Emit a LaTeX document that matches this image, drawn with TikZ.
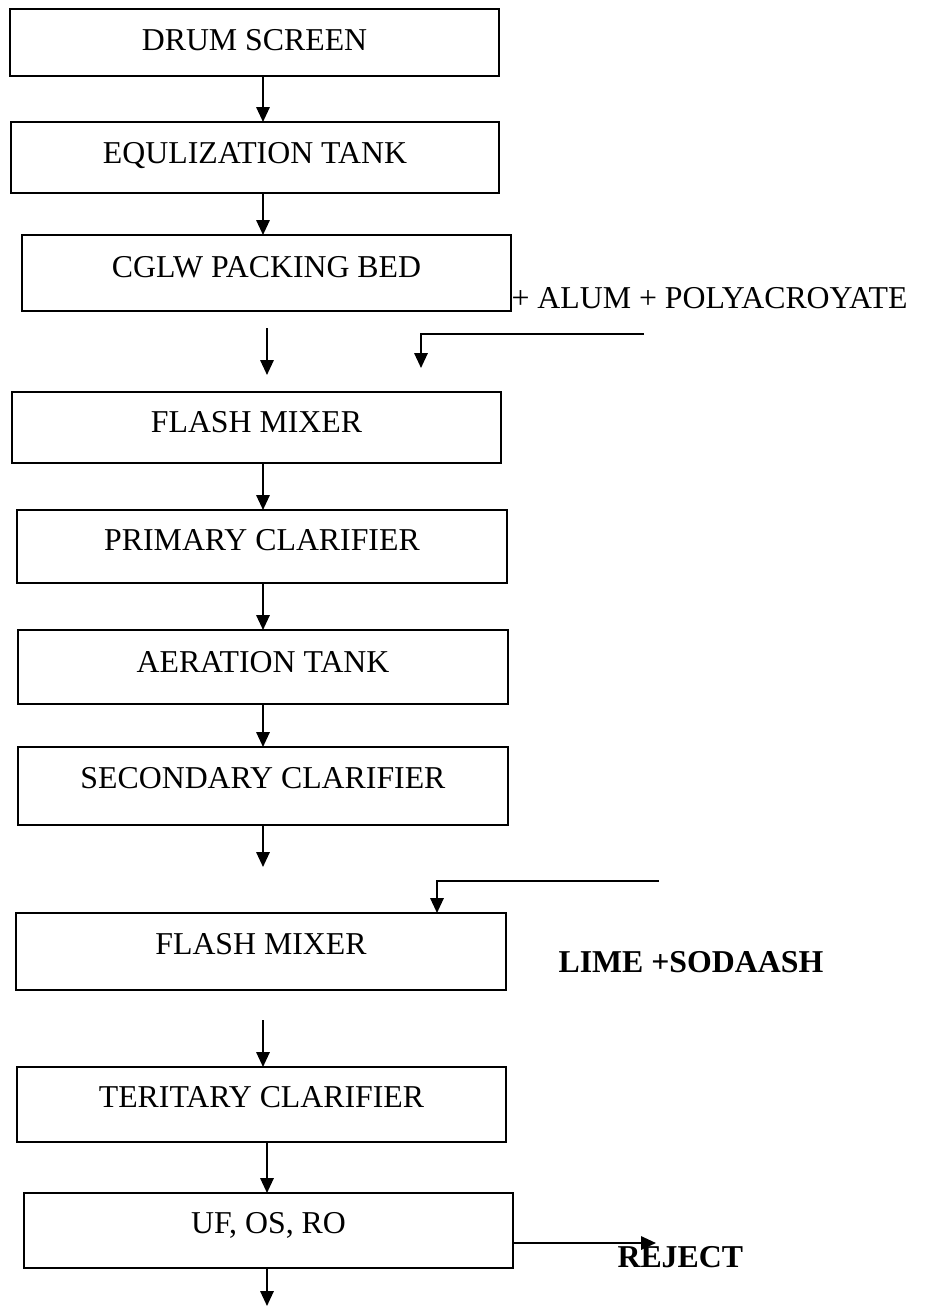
\documentclass[tikz,border=0pt]{standalone}
\usepackage{fontspec}
\setmainfont{Liberation Serif}
\usetikzlibrary{arrows.meta}
\newcommand\procbox[7]{%
  \node[procrect, minimum width={(#4-#2)*0.375pt}, minimum height={(#5-#3)*0.375pt}] (#1) at ({(#2+#4)/2},{(#3+#5)/2}) {};
  \node[proclabel] (#1-t) at ({(#2+#4)/2},#6) {#7};}
\tikzset{
  procrect/.style={draw, line width=0.75pt, inner sep=0pt, outer sep=0pt},
  proclabel/.style={anchor=base, inner sep=0pt},
  sidelabel/.style={anchor=base west, inner sep=0pt},
  boldlabel/.style={sidelabel, font=\fontsize{11.93}{14}\selectfont\bfseries},
  arr/.style={line width=0.75pt, -{Triangle[length=5.6pt,width=5pt]}}
}
\begin{document}
\begin{tikzpicture}[x=0.375pt, y=-0.375pt, font=\fontsize{11.93}{14}\selectfont]
\useasboundingbox (0,0) rectangle (926,1306);
\procbox{ds}{10}{9}{499}{76}{50}{DRUM SCREEN}
\procbox{eq}{11}{122}{499}{193}{163}{EQULIZATION TANK}
\procbox{cg}{22}{235}{511}{311}{277}{CGLW PACKING BED}
\procbox{fma}{12}{392}{501}{463}{432}{FLASH MIXER}
\procbox{pc}{17}{510}{507}{583}{550}{PRIMARY CLARIFIER}
\procbox{at}{18}{630}{508}{704}{672}{AERATION TANK}
\procbox{sc}{18}{747}{508}{825}{788}{SECONDARY CLARIFIER}
\procbox{fmb}{16}{913}{506}{990}{954}{FLASH MIXER}
\procbox{tc}{17}{1067}{506}{1142}{1107}{TERITARY CLARIFIER}
\procbox{uf}{24}{1193}{513}{1268}{1233}{UF, OS, RO}

\node[sidelabel] (alum) at (511,308) {+ ALUM + POLYACROYATE};
\node[boldlabel] (lime) at (558,972) {LIME +SODAASH};
\node[boldlabel] (rej) at (617,1267) {REJECT};

\coordinate (x263) at (263,0);
\coordinate (x267) at (267,0);
\coordinate (x437) at (437,0);
\draw[arr] (ds.south -| x263) -- (eq.north -| x263);
\draw[arr] (eq.south -| x263) -- (cg.north -| x263);
\coordinate (a3s) at (267,328);
\coordinate (a3e) at (267,375);
\draw[arr] (a3s) -- (a3e);
\coordinate (alums) at (644,334);
\coordinate (alume) at (421,368);
\draw[arr] (alums) -| (alume);
\draw[arr] (fma.south -| x263) -- (pc.north -| x263);
\draw[arr] (pc.south -| x263) -- (at.north -| x263);
\draw[arr] (at.south -| x263) -- (sc.north -| x263);
\coordinate (a8e) at (263,867);
\draw[arr] (sc.south -| x263) -- (a8e);
\coordinate (limes) at (659,881);
\draw[arr] (limes) -| (fmb.north -| x437);
\coordinate (a10s) at (263,1020);
\draw[arr] (a10s) -- (tc.north -| a10s);
\draw[arr] (tc.south -| x267) -- (uf.north -| x267);
\coordinate (reje) at (656,1243);
\draw[arr] (uf.east |- reje) -- (reje);
\coordinate (out) at (267,1306);
\draw[arr] (uf.south -| out) -- (out);
\end{tikzpicture}
\end{document}
